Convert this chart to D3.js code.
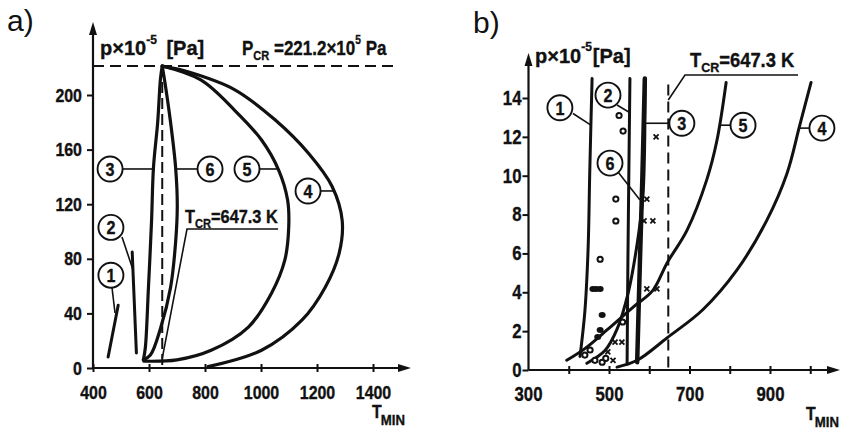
<!DOCTYPE html>
<html><head><meta charset="utf-8">
<script src="https://cdn.jsdelivr.net/npm/d3@7"></script>
<style>
html,body{margin:0;padding:0;background:#fff;}
svg{display:block;background:#fff;}
text{font-family:"Liberation Sans",Arial,sans-serif;font-weight:bold;fill:#111;stroke:#111;stroke-width:0.35px;}
</style></head><body>
<svg id="c" width="845" height="433"></svg>
<script>
// ================= DATA : panel a) =================
const aTicksX = [400,600,800,1000,1200,1400];
const aTicksY = [0,40,80,120,160,200];
const aCritT = 647.3, aCritP = 221.2;
const aCurve1 = [[454,8],[490,46]];
const aCurve2 = [[540,85],[555,11]];
const aCurve3 = [[580,6],[587,15],[598,59],[609,107],[616,147],[631,180],[641,212],[647.3,221.2]];
const aCurve6 = [[580,6],[605,9.5],[641,29],[677,59],[695,92],[701,119],[695,147],[677,180],[660,205],[647.3,221.2]];
const aCurve5 = [[647.3,221.2],[785,211],[905,189],[1002,167],[1063,145],[1095,123],[1099,103],[1085,79],[1038,55],[955,30],[822,13],[700,6],[582,5]];
const aCurve4 = [[647.3,221.2],[739,217],[905,204],[1049,182],[1171,157],[1254,133],[1290,108],[1279,84],[1229,59],[1146,35],[1002,13],[811,1]];
// labels a): [text, T, p]
const aLabels = [["1",464,68],["2",464,103],["3",461,145.8],["6",818,145.8],["5",950,145.8],["4",1168,129.7]];
const aLeaders = [[[468,58.6],[478.6,40.3]],[[503.6,96],[543,71.8]],[[507,145.8],[616,145.8]],[[695,145.8],[775,145.8]],[[993,145.8],[1063,145.8]],[[1211,129.7],[1262,129.7]]];

// ================= DATA : panel b) =================
const bTicksX = [400,500,600,700,800,900,1000];
const bTickLabelsX = [300,500,700,900];
const bTicksY = [0,2,4,6,8,10,12,14];
const bCritT = 647.3;
const bCurve1 = [[428,0.7],[440,3],[448,6.2],[452,10],[455,12.6],[458,15]];
const bCurve2 = [[545,0.3],[547,5.7],[552,15]];
const bCurve3 = [[570,0.4],[577,5.7],[583,10],[589,15]];
const bCurve6 = [[445,0.35],[490,1.0],[520,2.1],[548,4],[570,6.5],[584,8.9],[588,11],[590,15]];
const bCurve5 = [[395,0.5],[440,1.1],[495,2.06],[560,3.24],[609,4.1],[644,5.5],[694,7.2],[743,9.8],[768,11.8],[791,14.8]];
const bCurve4 = [[520,0.15],[570,0.5],[644,1.65],[733,3.1],[818,5.15],[892,7.7],[942,10.1],[974,12.6],[1002,14.8]];
const bCircles = [[525,13.1],[535,12.3],[517,8.8],[517,7.67],[478,5.7],[534,2.47],[440,0.77],[453,1.03],[465,0.5],[483,0.4],[492,0.6]];
const bFilled = [[460,4.17],[468,4.17],[478,4.17],[483,2.83],[478,2.06],[472,1.7]];
const bCrosses = [[617,12.0],[594,8.8],[587,7.67],[609,7.67],[594,4.17],[619,4.17],[515,1.44],[532,1.44],[497,0.93],[510,0.5]];
const bLabels = [["1",378,13.5],["2",497.5,14.15],["3",681,12.7],["5",833,12.6],["4",1029,12.45],["6",502.5,10.65]];
const bLeaders = [[[410.6,13.2],[455,12.6]],[[519.9,13.64],[549,13.28]],[[592,12.7],[651.6,12.7]],[[775,12.6],[803,12.6]],[[974,12.45],[999.4,12.45]],[[522.4,10.19],[577,8.75]]];

// ================= SCALES =================
const xa = d3.scaleLinear().domain([400,1400]).range([93,373]);
const ya = d3.scaleLinear().domain([0,200]).range([368,95]);
const xb = d3.scaleLinear().domain([300,1000]).range([528.5,810.25]);
const yb = d3.scaleLinear().domain([0,14]).range([370,98]);

const svg = d3.select("#c");
const ink = "#111";

// horizontally condense text (technical lettering look)
function sq(sel, sx){
  sel.each(function(){
    const t = d3.select(this);
    const x = +t.attr("x") || 0, y = +t.attr("y") || 0;
    t.attr("x",0).attr("y",0).attr("transform",`translate(${x},${y}) scale(${sx},1)`);
  });
}

function panel(g, x, y, xTicks, xLabels, yTicks, xEnd, yTop, fs, ypad){
  const x0 = x.range()[0], y0 = y(0);
  const ax = g.append("g").attr("transform",`translate(0,${y0})`)
    .call(d3.axisBottom(x).tickValues(xTicks).tickSize(4).tickPadding(13)
      .tickFormat(d => xLabels.includes(d) ? d : ""));
  ax.select(".domain").remove();
  ax.selectAll(".tick line").attr("y1",-4).attr("y2",4).attr("stroke",ink).attr("stroke-width",2);
  ax.selectAll("text").style("font-size",fs+"px").attr("fill",ink);
  sq(ax.selectAll("text"), 0.84);
  if (xLabels.includes(x.domain()[0]) && !xTicks.includes(x.domain()[0])) {
    const t0 = g.append("text").attr("x",x0).attr("y",y0+17).attr("dy","0.71em").attr("text-anchor","middle")
      .style("font-size",fs+"px").text(x.domain()[0]);
    sq(t0, 0.84);
  }
  const ay = g.append("g").attr("transform",`translate(${x0},0)`)
    .call(d3.axisLeft(y).tickValues(yTicks).tickSize(6).tickPadding(ypad));
  ay.select(".domain").remove();
  ay.selectAll(".tick line").attr("stroke",ink).attr("stroke-width",2);
  ay.selectAll("text").style("font-size",fs+"px").attr("fill",ink);
  sq(ay.selectAll("text"), 0.84);
  g.append("line").attr("x1",x0).attr("x2",xEnd-8).attr("y1",y0).attr("y2",y0).attr("stroke",ink).attr("stroke-width",2.2);
  g.append("line").attr("x1",x0).attr("x2",x0).attr("y1",y0).attr("y2",yTop+8).attr("stroke",ink).attr("stroke-width",2.2);
  g.append("path").attr("d",`M${xEnd},${y0} L${xEnd-13},${y0-4} L${xEnd-13},${y0+4}Z`).attr("fill",ink);
  g.append("path").attr("d",`M${x0},${yTop} L${x0-4},${yTop+13} L${x0+4},${yTop+13}Z`).attr("fill",ink);
}

function curve(g, x, y, data, w){
  const line = d3.line().x(d=>x(d[0])).y(d=>y(d[1])).curve(d3.curveCatmullRom.alpha(0.5));
  g.append("path").datum(data).attr("d",line).attr("fill","none").attr("stroke",ink)
   .attr("stroke-width",w||3).attr("stroke-linecap","round").attr("stroke-linejoin","round");
}
function seg(g, x, y, pts, w){
  g.append("path").attr("d", d3.line().x(d=>x(d[0])).y(d=>y(d[1]))(pts))
   .attr("fill","none").attr("stroke",ink).attr("stroke-width",w||1.6);
}
function labels(g, x, y, labs, leads){
  leads.forEach(l => seg(g,x,y,l,1.6));
  labs.forEach(l => {
    g.append("circle").attr("cx",x(l[1])).attr("cy",y(l[2])).attr("r",12.5)
      .attr("fill","#fff").attr("stroke",ink).attr("stroke-width",1.9);
    const t = g.append("text").attr("x",x(l[1])).attr("y",y(l[2])).attr("dy","0.36em")
      .attr("text-anchor","middle").style("font-size","19px").text(l[0]);
    sq(t, 0.85);
  });
}
function sub(t, main, s, rest, fs){
  t.append("tspan").text(main);
  t.append("tspan").attr("dy",5).style("font-size",(fs*0.68)+"px").text(s);
  t.append("tspan").attr("dy",-5).text(rest);
}

// ================= PANEL A =================
const gA = svg.append("g");
panel(gA, xa, ya, aTicksX, aTicksX, aTicksY, 411, 22, 19, 5);
gA.append("line").attr("x1",xa(400)).attr("x2",xa(1472)).attr("y1",ya(aCritP)).attr("y2",ya(aCritP))
  .attr("stroke",ink).attr("stroke-width",2).attr("stroke-dasharray","11,6");
gA.append("line").attr("x1",xa(aCritT)).attr("x2",xa(aCritT)).attr("y1",ya(aCritP)).attr("y2",ya(0))
  .attr("stroke",ink).attr("stroke-width",2).attr("stroke-dasharray","11,5");
[aCurve1,aCurve2].forEach(c=>curve(gA,xa,ya,c,3));
[aCurve3,aCurve6,aCurve5,aCurve4].forEach(c=>curve(gA,xa,ya,c,3.2));
labels(gA, xa, ya, aLabels, aLeaders);
seg(gA, xa, ya, [[1061,101.8],[735.7,101.8],[aCritT,7]], 1.6);
const tA = gA.append("text").attr("x",xa(728.6)).attr("y",ya(106)).style("font-size","19px");
sub(tA,"T","CR","=647.3 K",19); sq(tA,0.86);
const hA = gA.append("text").attr("x",100).attr("y",55).style("font-size","20px");
hA.append("tspan").text("p×10");
hA.append("tspan").attr("dy",-11).style("font-size","12px").text("-5");
hA.append("tspan").attr("dy",11).attr("dx",4).text(" [Pa]");
const pA = gA.append("text").attr("x",242).attr("y",55).style("font-size","20px");
pA.append("tspan").text("P");
pA.append("tspan").attr("dy",5).style("font-size","13px").text("CR");
pA.append("tspan").attr("dy",-5).text(" =221.2×10");
pA.append("tspan").attr("dy",-11).style("font-size","12px").text("5");
pA.append("tspan").attr("dy",11).text(" Pa");
sq(pA,0.85);
gA.append("text").attr("x",7).attr("y",31).style("font-weight","normal").style("stroke-width","0").style("font-size","30px").text("a)");
const tmA = gA.append("text").attr("x",372).attr("y",418).style("font-size","18px");
tmA.append("tspan").text("T");
tmA.append("tspan").attr("dy",7).attr("dx",-1).style("font-size","15px").text("MIN");
sq(tmA,0.88);

// ================= PANEL B =================
const gB = svg.append("g");
panel(gB, xb, yb, bTicksX, bTickLabelsX, bTicksY, 840, 53, 20, 1);
gB.append("line").attr("x1",xb(bCritT)).attr("x2",xb(bCritT)).attr("y1",yb(14.7)).attr("y2",yb(0))
  .attr("stroke",ink).attr("stroke-width",2).attr("stroke-dasharray","11,6");
curve(gB,xb,yb,bCurve1,3);
curve(gB,xb,yb,bCurve2,3);
curve(gB,xb,yb,bCurve3,4.5);
curve(gB,xb,yb,bCurve6,3);
curve(gB,xb,yb,bCurve5,3);
curve(gB,xb,yb,bCurve4,3);
gB.selectAll("circle.o").data(bCircles).join("circle").attr("class","o")
  .attr("cx",d=>xb(d[0])).attr("cy",d=>yb(d[1])).attr("r",2.6)
  .attr("fill","#fff").attr("stroke",ink).attr("stroke-width",2);
gB.selectAll("ellipse.f").data(bFilled).join("ellipse").attr("class","f")
  .attr("cx",d=>xb(d[0])).attr("cy",d=>yb(d[1])).attr("rx",3.5).attr("ry",3).attr("fill",ink);
gB.selectAll("path.x").data(bCrosses).join("path").attr("class","x")
  .attr("d",d=>{const x=xb(d[0]),y=yb(d[1]);return `M${x-2.5},${y-2.5}L${x+2.5},${y+2.5}M${x+2.5},${y-2.5}L${x-2.5},${y+2.5}`;})
  .attr("stroke",ink).attr("stroke-width",1.8);
labels(gB, xb, yb, bLabels, bLeaders);
seg(gB, xb, yb, [[969.6,15.18],[688.8,15.18],[bCritT,13.9]], 1.6);
const tB = gB.append("text").attr("x",xb(701)).attr("y",yb(15.6)).style("font-size","20px");
sub(tB,"T","CR","=647.3  K",20); sq(tB,0.92);
const hB = gB.append("text").attr("x",535).attr("y",63).style("font-size","20px");
hB.append("tspan").text("p×10");
hB.append("tspan").attr("dy",-12).style("font-size","12px").text("-5");
hB.append("tspan").attr("dy",12).attr("dx",1).text("[Pa]");
gB.append("text").attr("x",473).attr("y",33).style("font-weight","normal").style("stroke-width","0").style("font-size","30px").text("b)");
const tmB = gB.append("text").attr("x",806).attr("y",420).style("font-size","18px");
tmB.append("tspan").text("T");
tmB.append("tspan").attr("dy",7).attr("dx",-1).style("font-size","15px").text("MIN");
sq(tmB,0.88);
</script>
</body></html>
